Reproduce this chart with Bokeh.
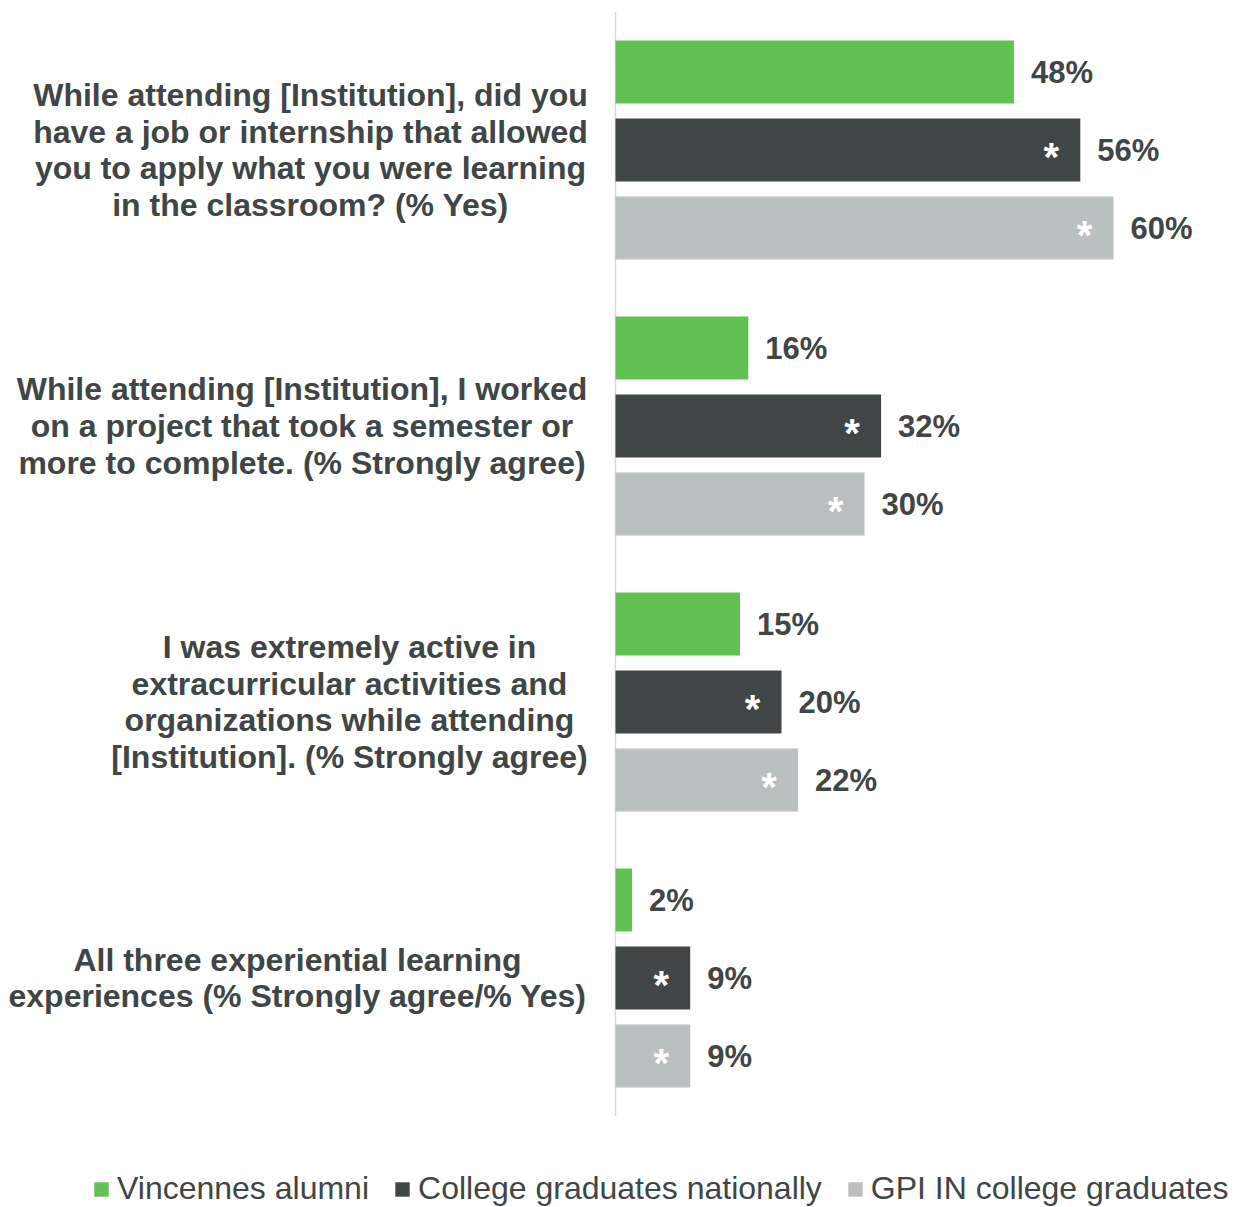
from bokeh.plotting import figure
from bokeh.models import Range1d, ColumnDataSource, Legend, LegendItem
from bokeh.core.properties import value
from bokeh.embed import file_html
from bokeh.resources import INLINE

# ---------------- data ----------------
categories = [
    "While attending [Institution], did you\nhave a job or internship that allowed\nyou to apply what you were learning\nin the classroom? (% Yes)",
    "While attending [Institution], I worked\non a project that took a semester or\nmore to complete. (% Strongly agree)",
    "I was extremely active in\nextracurricular activities and\norganizations while attending\n[Institution]. (% Strongly agree)",
    "All three experiential learning\nexperiences (% Strongly agree/% Yes)",
]
series = ["Vincennes alumni", "College graduates nationally", "GPI IN college graduates"]
vincennes = [48, 16, 15, 2]
national = [56, 32, 20, 9]
gpi_in = [60, 30, 22, 9]
significant = [[False, False, False, False], [True, True, True, True], [True, True, True, True]]
colors = ["#62C153", "#404545", "#BAC0BF"]
values = [vincennes, national, gpi_in]

# ---------------- layout ----------------
W, H = 1234, 1207
PX_PER_PCT = 8.3
ZERO_PX = 615           # figure x of the value axis
PITCH = 78.0            # px per bar slot
BAR_H = 63.0 / PITCH
GAP = (276.0 - 3 * PITCH) / PITCH
TOP_PAD = 71.5 / PITCH
TEXT = "#404545"
FONT = "Liberation Sans"
label_x_offsets = [-305, -313.5, -266, -318]

x_range = Range1d(-ZERO_PX / PX_PER_PCT, (W - ZERO_PX) / PX_PER_PCT)
y_range = Range1d(-TOP_PAD + H / PITCH, -TOP_PAD)

p = figure(width=W, height=H, x_range=x_range, y_range=y_range,
           output_backend="svg", toolbar_location=None,
           min_border=0, min_border_left=0, min_border_right=0,
           min_border_top=0, min_border_bottom=0)
p.xaxis.visible = False
p.yaxis.visible = False
p.xgrid.visible = False
p.ygrid.visible = False
p.outline_line_color = None
p.background_fill_color = "white"

ng = len(categories)
group_step = 3 + GAP

# value axis line
p.segment(x0=[0], x1=[0], y0=[-0.5 - GAP / 2],
          y1=[(ng - 1) * group_step + 2 + 0.5 + GAP / 2],
          line_color="#D9D9D9", line_width=1.5)

renderers = []
for s, (name, vals, col) in enumerate(zip(series, values, colors)):
    ys = [g * group_step + s for g in range(ng)]
    src = ColumnDataSource(dict(y=ys, v=vals, lab=[f"{v}%" for v in vals]))
    r = p.hbar(y="y", left=0, right="v", height=BAR_H, source=src,
               fill_color=col, line_color=None)
    renderers.append(r)
    p.text(x="v", y="y", text="lab", source=src, x_offset=17,
           text_font=value(FONT), text_font_style="bold", text_font_size="31px",
           text_color=TEXT, text_align="left", text_baseline="middle")
    sig_y = [y for y, f in zip(ys, significant[s]) if f]
    sig_v = [v for v, f in zip(vals, significant[s]) if f]
    if sig_y:
        p.text(x=sig_v, y=sig_y, text=["*"] * len(sig_y), x_offset=-29, y_offset=7,
               text_font=value(FONT), text_font_style="bold", text_font_size="40px",
               text_color="white", text_align="center", text_baseline="alphabetic")

cat_src = ColumnDataSource(dict(x=[0] * ng, y=[g * group_step + 1 for g in range(ng)],
                                t=categories, xo=label_x_offsets))
p.text(x="x", y="y", text="t", x_offset="xo", source=cat_src,
       text_font=value(FONT), text_font_style="bold", text_font_size="32px",
       text_color=TEXT, text_align="center", text_baseline="middle",
       text_line_height=1.025)

legend = Legend(items=[LegendItem(label=n, renderers=[r]) for n, r in zip(series, renderers)],
                location=(92, 0), orientation="horizontal",
                glyph_width=18, glyph_height=18, label_standoff=7, spacing=24,
                padding=0, margin=0, border_line_color=None, background_fill_alpha=0,
                label_text_font=FONT, label_text_font_size="32px",
                label_text_color=TEXT)
p.add_layout(legend)

open("out.html", "w").write(file_html(p, INLINE))
